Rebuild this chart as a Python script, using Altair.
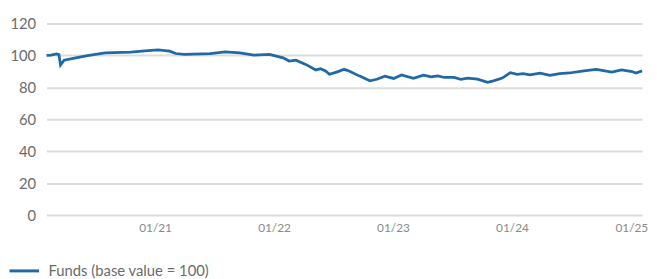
import altair as alt
import pandas as pd

dates = [
    "2020-02-03", "2020-02-17", "2020-03-05", "2020-03-12", "2020-03-17", "2020-03-28",
    "2020-05-03", "2020-06-12", "2020-08-01", "2020-10-19", "2020-12-10", "2021-01-10",
    "2021-02-15", "2021-03-05", "2021-04-01", "2021-06-19", "2021-08-04", "2021-09-18",
    "2021-10-31", "2021-12-18", "2022-01-29", "2022-02-16", "2022-03-09", "2022-04-08",
    "2022-05-09", "2022-05-24", "2022-06-08", "2022-06-20", "2022-07-14", "2022-08-04",
    "2022-08-19", "2022-09-19", "2022-10-22", "2022-11-12", "2022-12-07", "2023-01-03",
    "2023-01-27", "2023-03-05", "2023-04-04", "2023-04-28", "2023-05-19", "2023-06-07",
    "2023-07-07", "2023-07-28", "2023-08-18", "2023-09-17", "2023-10-18", "2023-11-05",
    "2023-12-02", "2023-12-27", "2024-01-17", "2024-02-04", "2024-02-25", "2024-03-27",
    "2024-04-26", "2024-05-26", "2024-06-25", "2024-08-03", "2024-09-15", "2024-10-03",
    "2024-11-02", "2024-12-02", "2025-01-03", "2025-01-15", "2025-02-03",
]
values = [
    100.0, 100.2, 101.0, 100.5, 94.0, 97.0,
    98.5, 100.0, 101.6, 102.0, 103.0, 103.5,
    102.7, 101.2, 100.6, 101.2, 102.2, 101.6,
    100.2, 100.6, 98.5, 96.5, 97.0, 94.4,
    90.9, 91.7, 90.3, 88.2, 89.7, 91.3,
    90.3, 87.2, 84.1, 85.1, 87.0, 85.6,
    87.8, 85.6, 87.6, 86.6, 87.2, 86.2,
    86.2, 85.0, 85.8, 85.2, 83.1, 84.1,
    85.8, 89.2, 88.2, 88.6, 87.8, 88.9,
    87.5, 88.6, 89.0, 90.1, 91.3, 90.7,
    89.5, 90.9, 89.9, 89.0, 90.3,
]
series_name = "Funds (base value = 100)"
y_ticks = [0, 20, 40, 60, 80, 100, 120]
x_tick_years = [2021, 2022, 2023, 2024, 2025]

df = pd.DataFrame({"date": dates, "value": values, "series": series_name})

line_color = "#1f6aa6"

chart = alt.Chart(df).mark_line(strokeWidth=2.8, interpolate="linear").encode(
    x=alt.X(
        "date:T",
        scale=alt.Scale(
            type="utc",
            domain=[alt.DateTime(year=2020, month=2, date=3, utc=True),
                    alt.DateTime(year=2025, month=2, date=3, utc=True)],
            nice=False,
        ),
        axis=alt.Axis(
            title=None,
            values=[alt.DateTime(year=y, month=1, date=1, utc=True) for y in x_tick_years],
            labelExpr="utcFormat(datum.value, '%m/%y')",
            grid=False,
            domain=False,
            ticks=False,
            labelFont="Lato",
            labelFontSize=12,
            labelColor="#8a8a8a",
            labelPadding=8,
            labelBound=False,
        ),
    ),
    y=alt.Y(
        "value:Q",
        scale=alt.Scale(domain=[0, 120], nice=False),
        axis=alt.Axis(
            title=None,
            values=y_ticks,
            grid=True,
            gridColor="#dcdcdc",
            gridWidth=2,
            domain=False,
            ticks=False,
            labelFont="Lato",
            labelFontSize=15,
            labelColor="#6b6b6b",
            labelPadding=11,
        ),
    ),
    color=alt.Color(
        "series:N",
        scale=alt.Scale(domain=[series_name], range=[line_color]),
        legend=alt.Legend(
            title=None,
            orient="none",
            legendX=-39,
            legendY=234,
            symbolType="stroke",
            symbolSize=900,
            symbolStrokeWidth=3,
            labelFont="Lato",
            labelFontSize=15,
            labelColor="#6b6b6b",
            labelOffset=8,
            labelLimit=400,
        ),
    ),
).properties(
    width=603,
    height=194,
    autosize=alt.AutoSizeParams(type="none"),
    padding={"left": 39, "top": 14, "right": 7, "bottom": 63},
).configure_view(stroke=None)

chart.save("out.html", embed_options={"renderer": "svg", "actions": False})
